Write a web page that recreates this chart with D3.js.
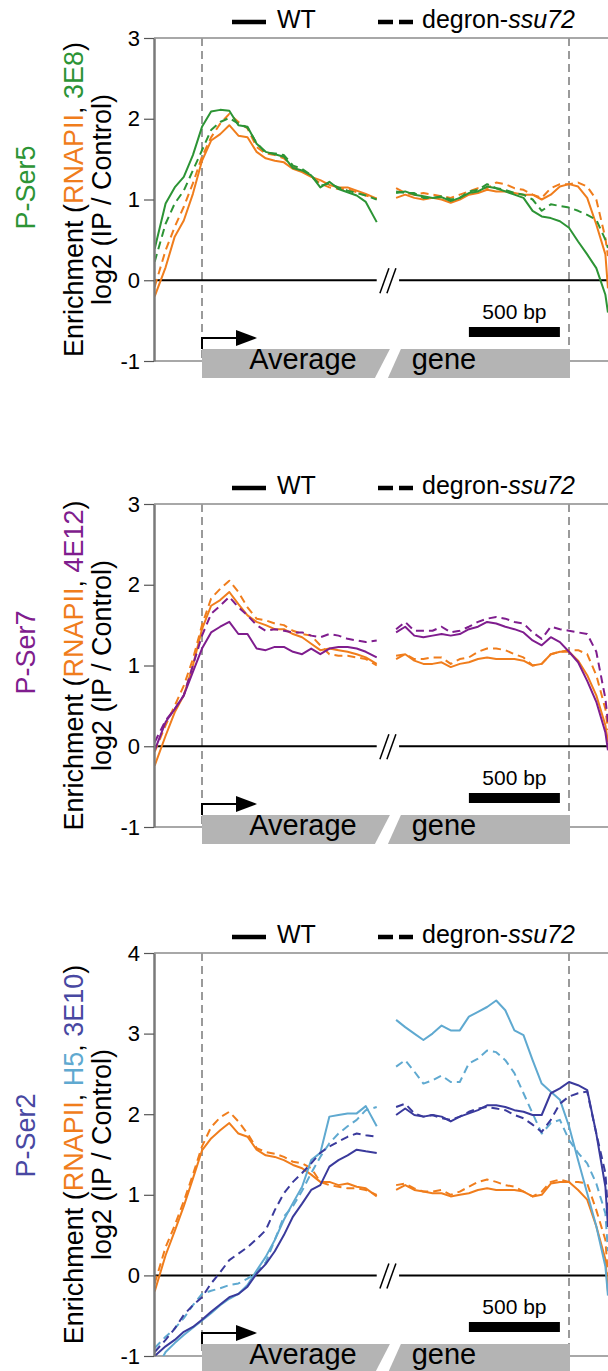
<!DOCTYPE html>
<html>
<head>
<meta charset="utf-8">
<script src="https://cdn.jsdelivr.net/npm/d3@7"></script>
<style>
  html, body { margin: 0; padding: 0; background: #fff; }
  svg { display: block; font-family: "Liberation Sans", Arial, Helvetica, sans-serif; }
</style>
</head>
<body>
<svg id="chart" width="608" height="1371"></svg>
<script>
// Metagene positions (bp). Left block is relative to the TSS, right block to the TES.
const posTSS = [-260,-200,-150,-100,-50,0,50,100,150,200,250,300,350,400,450,500,550,600,650,700,750,800,850,900,960];
const posTES = [-950,-900,-850,-800,-750,-700,-650,-600,-550,-500,-450,-400,-350,-300,-250,-200,-150,-100,-50,0,50,100,150,200,214];

// log2 (IP / Control) enrichment profiles
// P-Ser5 panel
const ser5_rnapii_wt_tss  = [-0.20,0.16,0.54,0.74,1.07,1.48,1.73,1.81,1.92,1.79,1.77,1.59,1.51,1.48,1.46,1.38,1.34,1.28,1.24,1.18,1.15,1.15,1.11,1.07,1.01];
const ser5_rnapii_deg_tss = [-0.08,0.37,0.66,0.91,1.20,1.53,1.77,1.94,2.06,1.96,1.88,1.65,1.57,1.55,1.51,1.40,1.36,1.28,1.20,1.15,1.13,1.13,1.09,1.05,1.01];
const ser5_3e8_wt_tss     = [0.39,0.95,1.15,1.28,1.55,1.90,2.09,2.11,2.10,1.92,1.90,1.69,1.59,1.56,1.53,1.39,1.36,1.30,1.15,1.22,1.13,1.09,1.05,0.97,0.72];
const ser5_3e8_deg_tss    = [0.23,0.70,0.95,1.11,1.36,1.61,1.86,1.96,2.01,1.94,1.89,1.70,1.58,1.57,1.55,1.42,1.38,1.30,1.17,1.20,1.15,1.11,1.08,1.05,1.00];
const ser5_rnapii_wt_tes  = [1.02,1.06,1.02,1.00,1.02,1.00,0.96,1.00,1.06,1.08,1.12,1.10,1.10,1.08,1.06,1.06,1.00,1.06,1.16,1.19,1.16,1.02,0.69,0.32,-0.10];
const ser5_rnapii_deg_tes = [1.14,1.08,1.06,1.08,1.06,1.04,1.02,1.06,1.10,1.14,1.14,1.21,1.19,1.14,1.12,1.06,1.02,1.14,1.19,1.19,1.21,1.16,1.00,0.52,0.30];
const ser5_3e8_wt_tes     = [1.08,1.10,1.06,1.04,1.02,1.03,0.98,1.02,1.08,1.10,1.16,1.14,1.10,1.06,1.02,0.86,0.79,0.77,0.73,0.65,0.48,0.32,0.15,-0.18,-0.40];
const ser5_3e8_deg_tes    = [1.10,1.08,1.08,1.02,1.02,1.04,1.00,1.02,1.10,1.12,1.19,1.14,1.12,1.08,1.06,1.00,0.86,0.94,0.92,0.90,0.86,0.81,0.75,0.50,0.40];

// P-Ser7 panel
const ser7_rnapii_wt_tss  = [-0.24,0.13,0.42,0.63,1.00,1.45,1.74,1.81,1.91,1.76,1.62,1.54,1.50,1.45,1.45,1.39,1.35,1.27,1.19,1.21,1.19,1.17,1.14,1.10,1.02];
const ser7_rnapii_deg_tss = [-0.07,0.26,0.50,0.75,1.08,1.50,1.83,1.95,2.05,1.91,1.72,1.58,1.56,1.52,1.50,1.43,1.39,1.37,1.25,1.14,1.12,1.12,1.10,1.08,1.00];
const ser7_4e12_wt_tss    = [-0.05,0.30,0.46,0.63,0.92,1.21,1.41,1.48,1.54,1.39,1.39,1.21,1.19,1.23,1.23,1.17,1.14,1.21,1.14,1.21,1.23,1.23,1.21,1.17,1.10];
const ser7_4e12_deg_tss   = [0.05,0.32,0.46,0.63,1.00,1.37,1.64,1.74,1.85,1.72,1.62,1.50,1.43,1.45,1.43,1.41,1.41,1.37,1.35,1.39,1.37,1.33,1.31,1.29,1.31];
const ser7_rnapii_wt_tes  = [1.08,1.14,1.06,1.02,1.02,1.04,0.98,1.02,1.04,1.08,1.10,1.08,1.08,1.08,1.06,1.00,1.02,1.14,1.17,1.17,1.06,0.88,0.63,0.26,0.05];
const ser7_rnapii_deg_tes = [1.12,1.14,1.08,1.08,1.10,1.10,1.02,1.08,1.10,1.17,1.21,1.21,1.19,1.14,1.10,1.00,1.02,1.14,1.17,1.19,1.19,1.14,0.88,0.46,0.20];
const ser7_4e12_wt_tes    = [1.41,1.48,1.37,1.35,1.37,1.39,1.37,1.39,1.45,1.48,1.54,1.52,1.48,1.45,1.41,1.31,1.25,1.35,1.29,1.17,1.04,0.81,0.55,0.17,-0.05];
const ser7_4e12_deg_tes   = [1.45,1.54,1.43,1.43,1.43,1.48,1.41,1.43,1.48,1.54,1.58,1.60,1.58,1.54,1.52,1.41,1.33,1.48,1.45,1.43,1.41,1.39,1.17,0.59,0.30];

// P-Ser2 panel
const ser2_rnapii_wt_tss  = [-0.20,0.25,0.55,0.86,1.20,1.55,1.70,1.80,1.89,1.76,1.72,1.56,1.49,1.47,1.43,1.37,1.33,1.25,1.16,1.16,1.12,1.14,1.10,1.08,0.98];
const ser2_rnapii_deg_tss = [-0.10,0.35,0.62,0.92,1.25,1.60,1.84,1.96,2.03,1.91,1.76,1.58,1.53,1.51,1.47,1.41,1.39,1.33,1.16,1.12,1.10,1.08,1.08,1.06,1.00];
const ser2_h5_wt_tss      = [-1.20,-0.95,-0.84,-0.74,-0.65,-0.56,-0.47,-0.37,-0.29,-0.23,-0.12,0.06,0.23,0.44,0.69,0.90,1.10,1.43,1.52,1.97,1.99,2.01,2.01,2.10,1.85];
const ser2_h5_deg_tss     = [-0.90,-0.76,-0.66,-0.53,-0.37,-0.23,-0.19,-0.16,-0.12,-0.10,-0.04,0.04,0.16,0.44,0.73,0.86,1.05,1.27,1.47,1.64,1.76,1.85,1.93,2.05,2.09];
const ser2_3e10_wt_tss    = [-1.00,-0.88,-0.80,-0.70,-0.64,-0.55,-0.45,-0.36,-0.27,-0.23,-0.14,0.02,0.14,0.30,0.50,0.73,0.89,1.06,1.12,1.35,1.43,1.49,1.56,1.54,1.52];
const ser2_3e10_deg_tss   = [-0.95,-0.80,-0.66,-0.49,-0.37,-0.27,-0.10,0.04,0.19,0.27,0.35,0.45,0.56,0.81,1.02,1.16,1.27,1.39,1.52,1.60,1.66,1.72,1.76,1.74,1.72];
const ser2_rnapii_wt_tes  = [1.06,1.12,1.06,1.04,1.02,1.02,0.98,1.00,1.02,1.06,1.08,1.06,1.06,1.06,1.04,0.98,1.00,1.14,1.16,1.16,1.06,0.94,0.61,0.20,-0.20];
const ser2_rnapii_deg_tes = [1.12,1.14,1.08,1.04,1.04,1.06,1.00,1.04,1.10,1.16,1.19,1.16,1.12,1.10,1.04,0.98,1.04,1.16,1.19,1.16,1.16,1.14,0.81,0.44,0.00];
const ser2_h5_wt_tes      = [3.17,3.08,3.00,2.92,3.00,3.10,3.04,3.04,3.21,3.27,3.33,3.41,3.29,3.04,2.98,2.67,2.38,2.28,2.18,1.85,1.43,1.02,0.61,0.11,-0.25];
const ser2_h5_deg_tes     = [2.59,2.67,2.53,2.38,2.42,2.48,2.40,2.40,2.63,2.69,2.79,2.77,2.67,2.51,2.26,2.01,1.76,1.89,1.93,1.68,1.52,1.39,1.14,0.77,0.30];
const ser2_3e10_wt_tes    = [1.99,2.07,1.99,1.97,1.99,1.97,1.91,1.97,2.01,2.05,2.11,2.11,2.09,2.05,2.03,1.99,1.99,2.26,2.32,2.40,2.36,2.30,1.76,1.10,0.60];
const ser2_3e10_deg_tes   = [2.09,2.13,2.01,1.97,1.99,1.95,1.93,1.97,2.03,2.07,2.09,2.07,2.05,1.99,1.95,1.87,1.78,1.93,2.13,2.22,2.26,2.28,1.76,1.27,0.80];

// Labels
const legendLabels = ["WT", "degron-", "ssu72"];
const markLabels = ["Average", "gene", "500 bp"];
const scaleBarBp = [-550, -50];

// Colours
const ORANGE = "#f07d1c", GREEN = "#2c9435", PURPLE = "#7f1d8e",
      LIGHTBLUE = "#5fa9d0", DARKBLUE = "#3a3a9c", GREY = "#b4b4b4";

const panels = [
  {
    top: 38, bottom: 361, yMax: 3, tag: "P-Ser5", tagColor: GREEN, tagDy: -12,
    title: [["Enrichment (", "#000"], ["RNAPII", ORANGE], [", ", "#000"], ["3E8", GREEN], [")", "#000"]],
    series: [
      { color: ORANGE, dashed: false, tss: ser5_rnapii_wt_tss,  tes: ser5_rnapii_wt_tes },
      { color: ORANGE, dashed: true,  tss: ser5_rnapii_deg_tss, tes: ser5_rnapii_deg_tes },
      { color: GREEN,  dashed: false, tss: ser5_3e8_wt_tss,     tes: ser5_3e8_wt_tes },
      { color: GREEN,  dashed: true,  tss: ser5_3e8_deg_tss,    tes: ser5_3e8_deg_tes }
    ]
  },
  {
    top: 504, bottom: 827, yMax: 3, tag: "P-Ser7", tagColor: PURPLE, tagDy: -13,
    title: [["Enrichment (", "#000"], ["RNAPII", ORANGE], [", ", "#000"], ["4E12", PURPLE], [")", "#000"]],
    series: [
      { color: ORANGE, dashed: false, tss: ser7_rnapii_wt_tss,  tes: ser7_rnapii_wt_tes },
      { color: ORANGE, dashed: true,  tss: ser7_rnapii_deg_tss, tes: ser7_rnapii_deg_tes },
      { color: PURPLE, dashed: false, tss: ser7_4e12_wt_tss,    tes: ser7_4e12_wt_tes },
      { color: PURPLE, dashed: true,  tss: ser7_4e12_deg_tss,   tes: ser7_4e12_deg_tes }
    ]
  },
  {
    top: 953, bottom: 1356, yMax: 4, tag: "P-Ser2", tagColor: "#4848a2", tagDy: -19,
    title: [["Enrichment (", "#000"], ["RNAPII", ORANGE], [", ", "#000"], ["H5", LIGHTBLUE], [", ", "#000"], ["3E10", "#4848a2"], [")", "#000"]],
    series: [
      { color: ORANGE,    dashed: false, tss: ser2_rnapii_wt_tss,  tes: ser2_rnapii_wt_tes },
      { color: ORANGE,    dashed: true,  tss: ser2_rnapii_deg_tss, tes: ser2_rnapii_deg_tes },
      { color: LIGHTBLUE, dashed: false, tss: ser2_h5_wt_tss,      tes: ser2_h5_wt_tes },
      { color: LIGHTBLUE, dashed: true,  tss: ser2_h5_deg_tss,     tes: ser2_h5_deg_tes },
      { color: DARKBLUE,  dashed: false, tss: ser2_3e10_wt_tss,    tes: ser2_3e10_wt_tes },
      { color: DARKBLUE,  dashed: true,  tss: ser2_3e10_deg_tss,   tes: ser2_3e10_deg_tes }
    ]
  }
];

const W = 608;
const axisX = 154;
// Same bp-per-pixel on both sides of the break: 500 bp = 91 px
const xL = d3.scaleLinear().domain([0, 500]).range([202, 293]);
const xR = d3.scaleLinear().domain([-500, 0]).range([478, 569]);

const svg = d3.select("#chart");
const defs = svg.append("defs");

panels.forEach((p, i) => {
  const y = d3.scaleLinear().domain([-1, p.yMax]).range([p.bottom, p.top]);
  const g = svg.append("g");
  const yNeg1 = y(-1), y0 = y(0);
  const tssX = xL(0), tesX = xR(0);
  const midY = (p.top + p.bottom) / 2;

  // frame: top and bottom border
  g.append("line").attr("x1", axisX).attr("x2", W).attr("y1", p.top).attr("y2", p.top)
    .attr("stroke", "#a8a8a8").attr("stroke-width", 2);
  g.append("line").attr("x1", axisX).attr("x2", W).attr("y1", yNeg1).attr("y2", yNeg1)
    .attr("stroke", "#a8a8a8").attr("stroke-width", 2);

  // TSS / TES guides
  [tssX, tesX].forEach(xv => {
    g.append("line").attr("x1", xv).attr("x2", xv).attr("y1", p.top).attr("y2", yNeg1)
      .attr("stroke", "#9a9a9a").attr("stroke-width", 2).attr("stroke-dasharray", "8,5");
  });

  // zero line with axis break
  const leftEnd = xL(posTSS[posTSS.length - 1]);
  const rightStart = xR(posTES[0]) + 3;
  g.append("line").attr("x1", axisX).attr("x2", leftEnd).attr("y1", y0).attr("y2", y0)
    .attr("stroke", "#000").attr("stroke-width", 2);
  g.append("line").attr("x1", rightStart).attr("x2", W).attr("y1", y0).attr("y2", y0)
    .attr("stroke", "#000").attr("stroke-width", 2);
  const bx = (leftEnd + rightStart) / 2;
  [-3.5, 3.5].forEach(off => {
    g.append("line")
      .attr("x1", bx + off - 4.5).attr("y1", y0 + 13)
      .attr("x2", bx + off + 4.5).attr("y2", y0 - 12)
      .attr("stroke", "#000").attr("stroke-width", 1.5);
  });

  // data lines, clipped to the plot area
  const clipId = "clip" + i;
  defs.append("clipPath").attr("id", clipId).append("rect")
    .attr("x", axisX).attr("y", p.top).attr("width", W - axisX).attr("height", yNeg1 - p.top);
  const lines = g.append("g").attr("clip-path", `url(#${clipId})`);
  const lineL = d3.line().x((d, k) => xL(posTSS[k])).y(d => y(d));
  const lineR = d3.line().x((d, k) => xR(posTES[k])).y(d => y(d));
  p.series.forEach(s => {
    [[s.tss, lineL], [s.tes, lineR]].forEach(([vals, gen]) => {
      lines.append("path").attr("d", gen(vals))
        .attr("fill", "none").attr("stroke", s.color).attr("stroke-width", 2)
        .attr("stroke-linejoin", "round")
        .attr("stroke-dasharray", s.dashed ? "8,5" : null);
    });
  });

  // gene body bar with a slanted gap at the break
  const barTop = yNeg1 - 12, barBot = yNeg1 + 17;
  g.append("rect").attr("x", tssX).attr("y", barTop).attr("width", tesX - tssX + 1)
    .attr("height", barBot - barTop).attr("fill", GREY);
  g.append("polygon")
    .attr("points", `${bx + 2},${barTop} ${bx + 13},${barTop} ${bx},${barBot} ${bx - 13},${barBot}`)
    .attr("fill", "#fff");
  g.append("text").attr("x", 303).attr("y", yNeg1 + 8).attr("text-anchor", "middle")
    .attr("font-size", 29).attr("fill", "#000").text(markLabels[0]);
  g.append("text").attr("x", 444).attr("y", yNeg1 + 8).attr("text-anchor", "middle")
    .attr("font-size", 29).attr("fill", "#000").text(markLabels[1]);

  // transcription start arrow
  const arrowY = yNeg1 - 23;
  g.append("path").attr("d", `M${tssX},${barTop} V${arrowY} H${tssX + 36}`)
    .attr("fill", "none").attr("stroke", "#000").attr("stroke-width", 2);
  g.append("path").attr("d", `M${tssX + 34},${arrowY - 8} L${tssX + 55},${arrowY} L${tssX + 34},${arrowY + 8} Z`)
    .attr("fill", "#000");

  // 500 bp scale bar
  g.append("rect").attr("x", xR(scaleBarBp[0])).attr("y", yNeg1 - 34)
    .attr("width", xR(scaleBarBp[1]) - xR(scaleBarBp[0])).attr("height", 10).attr("fill", "#000");
  g.append("text").attr("x", (xR(scaleBarBp[0]) + xR(scaleBarBp[1])) / 2).attr("y", yNeg1 - 42)
    .attr("text-anchor", "middle").attr("font-size", 21).attr("fill", "#000").text(markLabels[2]);

  // y axis (plain hyphen for negative ticks)
  const axis = d3.axisLeft(y).tickValues(d3.range(-1, p.yMax + 1)).tickSize(10).tickSizeOuter(0)
    .tickPadding(4).tickFormat(d => String(d));
  const ag = g.append("g").attr("transform", `translate(${axisX},0)`).call(axis);
  ag.select(".domain").attr("stroke", "#7a7a7a").attr("stroke-width", 2.5);
  ag.selectAll(".tick line").attr("stroke", "#555").attr("stroke-width", 1.2);
  ag.selectAll(".tick text").attr("font-size", 22).attr("fill", "#000")
    .attr("font-family", '"Liberation Sans", Arial, sans-serif');

  // y titles
  const t1 = g.append("text").attr("transform", `translate(83,${midY}) rotate(-90)`)
    .attr("text-anchor", "middle").attr("font-size", 27);
  p.title.forEach(([txt, col]) => t1.append("tspan").attr("fill", col).text(txt));
  g.append("text").attr("transform", `translate(111,${midY}) rotate(-90)`)
    .attr("text-anchor", "middle").attr("font-size", 27).attr("fill", "#000")
    .text("log2 (IP / Control)");
  g.append("text").attr("transform", `translate(35,${midY + p.tagDy}) rotate(-90)`)
    .attr("text-anchor", "middle").attr("font-size", 27).attr("fill", p.tagColor).text(p.tag);

  // legend
  const ly = p.top - 16;
  g.append("line").attr("x1", 232).attr("x2", 266).attr("y1", ly).attr("y2", ly)
    .attr("stroke", "#000").attr("stroke-width", 4.5);
  g.append("text").attr("x", 277).attr("y", p.top - 10).attr("font-size", 25).text(legendLabels[0]);
  g.append("line").attr("x1", 378).attr("x2", 413).attr("y1", ly).attr("y2", ly)
    .attr("stroke", "#000").attr("stroke-width", 4.5).attr("stroke-dasharray", "15,6");
  const lt = g.append("text").attr("x", 422).attr("y", p.top - 10).attr("font-size", 25);
  lt.append("tspan").text(legendLabels[1]);
  lt.append("tspan").attr("font-style", "italic").text(legendLabels[2]);
});
</script>
</body>
</html>
